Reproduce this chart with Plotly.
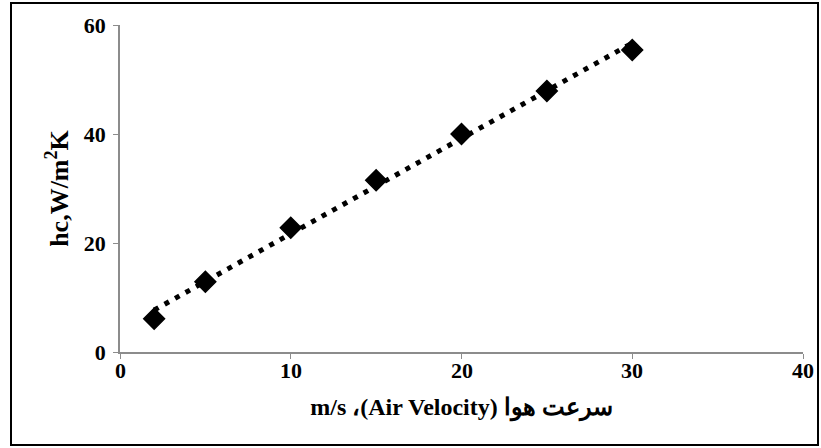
import numpy as np
import plotly.graph_objects as go

air_velocity = [2, 5, 10, 15, 20, 25, 30]
hc_values = [6.1, 12.9, 22.8, 31.5, 40.0, 47.9, 55.4]
x_ticks = [0, 10, 20, 30, 40]
y_ticks = [0, 20, 40, 60]

slope, intercept = np.polyfit(air_velocity, hc_values, 1)
trend_x = [min(air_velocity), max(air_velocity)]
trend_y = [slope * v + intercept for v in trend_x]

fig = go.Figure()
fig.add_trace(go.Scatter(
    x=trend_x, y=trend_y, mode="lines",
    line=dict(color="black", width=5, dash="5px,7px"),
    showlegend=False, hoverinfo="skip"))
fig.add_trace(go.Scatter(
    x=air_velocity, y=hc_values, mode="markers",
    marker=dict(symbol="diamond", size=16, color="black",
                line=dict(color="black", width=1.5)),
    showlegend=False))

font_family = "Liberation Serif"
L, R, T, B = 120, 18, 25, 96
W, H = 821, 448
pw, ph = W - L - R, H - T - B

tick_font = dict(size=22, family=font_family, weight="bold", color="black")
x_tick_annotations = [
    dict(x=v, y=0, xref="x", yref="y", text=str(v), showarrow=False,
         xanchor="center", yanchor="top", yshift=-4, font=tick_font)
    for v in x_ticks
]

fig.update_layout(
    width=W, height=H,
    margin=dict(l=L, r=R, t=T, b=B),
    paper_bgcolor="white", plot_bgcolor="white",
    font=dict(family=font_family, color="black", size=22),
    xaxis=dict(range=[0, 40], tickvals=x_ticks, showgrid=False, zeroline=False,
               showline=True, linecolor="#8c8c8c", linewidth=1.5,
               ticks="outside", tickcolor="#8c8c8c", ticklen=5,
               showticklabels=False,
               title=dict(text="m/s ،(Air Velocity) سرعت هوا",
                          font=dict(size=24, family=font_family, weight="bold", color="black"),
                          standoff=40)),
    yaxis=dict(range=[0, 60], tickvals=y_ticks, showgrid=False, zeroline=False,
               showline=True, linecolor="#8c8c8c", linewidth=1.5,
               ticks="outside", tickcolor="#8c8c8c", ticklen=5,
               ticklabelstandoff=3,
               tickfont=tick_font,
               title=dict(text="hc,W/m<sup>2</sup>K",
                          font=dict(size=26, family=font_family, weight="bold", color="black"),
                          standoff=8)),
    annotations=x_tick_annotations,
    shapes=[dict(type="rect", xref="paper", yref="paper",
                 x0=(11 - L) / pw, x1=(818 - L) / pw,
                 y0=(H - B - 445) / ph, y1=(H - B - 3) / ph,
                 line=dict(color="black", width=2), layer="below")],
)

fig.write_html("out.html")
